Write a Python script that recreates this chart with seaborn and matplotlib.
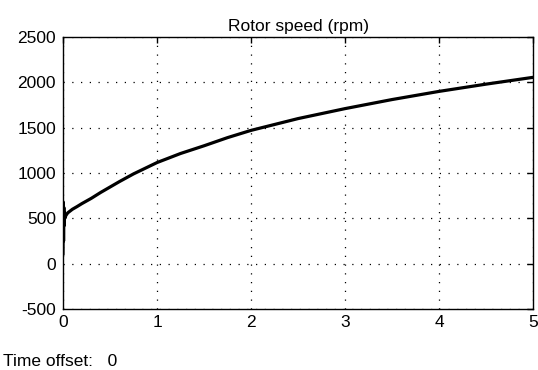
import numpy as np
import pandas as pd
import matplotlib
matplotlib.use("Agg")
import matplotlib.pyplot as plt
import seaborn as sns

# ─── Data ─────────────────────────────────────────────────
time_s = [0.0, 0.003, 0.006, 0.009, 0.012, 0.015, 0.02, 0.03, 0.05, 0.1,
          0.15, 0.2, 0.3, 0.4, 0.5, 0.6, 0.75, 0.9, 1.0, 1.25,
          1.5, 1.75, 2.0, 2.5, 3.0, 3.5, 4.0, 4.5, 5.0]
speed_rpm = [100, 680, 250, 620, 420, 560, 500, 530, 560, 600,
             630, 662, 720, 785, 845, 905, 990, 1065, 1115, 1215,
             1300, 1390, 1470, 1600, 1710, 1810, 1900, 1980, 2055]
x_ticks = [0, 1, 2, 3, 4, 5]
y_ticks = [-500, 0, 500, 1000, 1500, 2000, 2500]
title = "Rotor speed (rpm)"
footer = "Time offset:   0"

df = pd.DataFrame({"t": time_s, "speed": speed_rpm})

# ─── Style ────────────────────────────────────────────────
sns.set_theme(style="white")
plt.rcParams.update({
    "font.family": ["Liberation Sans", "DejaVu Sans"],
    "font.size": 12.5,
    "axes.unicode_minus": False,
    "axes.edgecolor": "black",
    "axes.linewidth": 1.0,
    "xtick.direction": "in",
    "ytick.direction": "in",
    "xtick.top": True,
    "ytick.right": True,
    "xtick.major.size": 4,
    "ytick.major.size": 4,
    "xtick.color": "black",
    "ytick.color": "black",
    "text.color": "black",
})

fig = plt.figure(figsize=(5.38, 3.70), dpi=100)
ax = fig.add_axes([63 / 538, 1 - 309 / 370, 470 / 538, 272 / 370])

sns.lineplot(data=df, x="t", y="speed", ax=ax, color="black",
             linewidth=2.3, estimator=None, sort=False)

ax.set_xlim(0, 5)
ax.set_ylim(-500, 2500)
ax.set_xticks(x_ticks)
ax.set_yticks(y_ticks)
ax.tick_params(axis="y", labelsize=12.5, pad=5, width=1)
ax.tick_params(axis="x", labelsize=12.5, pad=4, width=1)
ax.grid(True, color="black", linestyle=(0, (1, 6)), linewidth=0.9)
ax.set_axisbelow(True)
ax.set_xlabel("")
ax.set_ylabel("")
ax.set_title(title, fontsize=12.5, pad=4)

fig.text(3 / 538, 1 - 361 / 370, footer, fontsize=12.5, va="center", ha="left")

fig.savefig("out.png", dpi=100, facecolor="white")
